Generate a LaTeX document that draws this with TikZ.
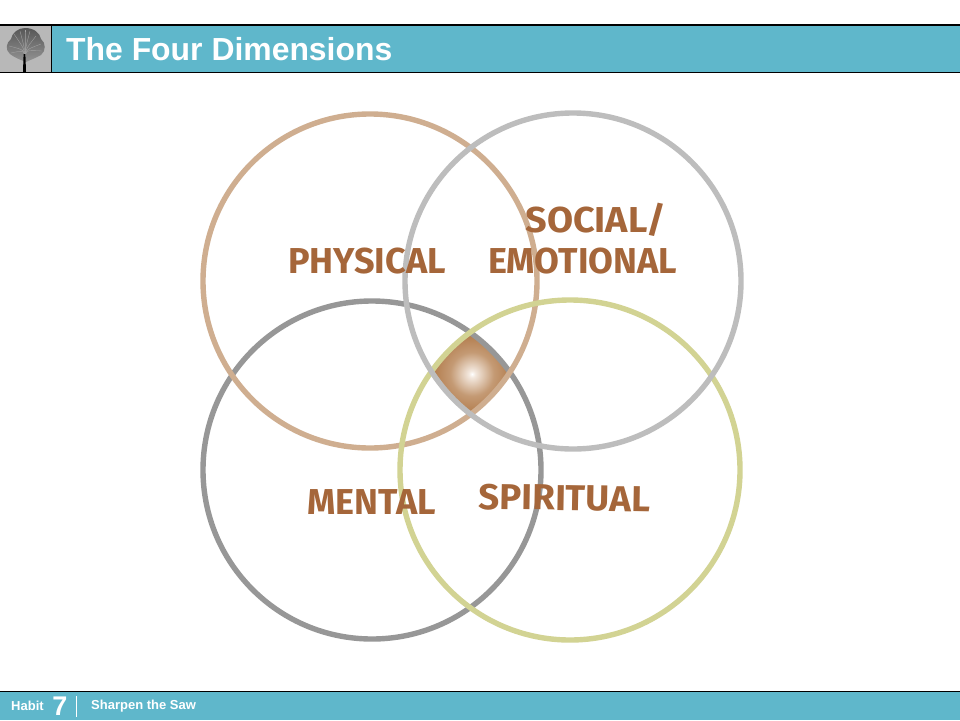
\documentclass[tikz,border=0pt]{standalone}
\usepackage{fontspec}
\setmainfont{Liberation Sans}
\newfontfamily\venn{Fira Sans}
\definecolor{teal1}{HTML}{5FB7CB}
\definecolor{ringtan}{HTML}{CFAE90}
\definecolor{ringlight}{HTML}{BDBDBD}
\definecolor{ringdark}{HTML}{979797}
\definecolor{ringgreen}{HTML}{D2D393}
\definecolor{wordbrown}{HTML}{A5663A}
\definecolor{coreA}{HTML}{C49A74}
\definecolor{coreB}{HTML}{B27B4B}
\definecolor{coreC}{HTML}{F3E8DE}
\pgfdeclareradialshading{coreglow}{\pgfpoint{0bp}{0bp}}{
  color(0bp)=(white);
  color(2bp)=(coreC);
  color(13bp)=(coreA);
  color(24bp)=(coreB);
  color(50bp)=(coreB)}
\tikzset{
  ring/.style={draw=#1,line width=5.4pt,fill=none},
  word/.style={text=wordbrown,font=\venn\bfseries\fontsize{36}{36}\selectfont,inner sep=0pt,anchor=center},
}
\begin{document}
\begin{tikzpicture}[x=1pt,y=-1pt]
\useasboundingbox (0,0) rectangle (960,720);
\fill[white] (0,0) rectangle (960,720);
% header
\node[draw=none,fill=teal1,minimum width=908pt,minimum height=48pt,inner sep=0pt,anchor=north west] (head) at (52,24.5) {};
\node[fill=black!28,minimum width=51pt,minimum height=48pt,inner sep=0pt,anchor=north west] (treebox) at (0,24.5) {};
\draw[line width=2pt] (0,24.5) -- (960,24.5);
\draw[line width=1pt] (0,72.5) -- (960,72.5);
\draw[line width=1pt] (51.5,24.5) -- (51.5,72.5);
\node[text=white,font=\bfseries\fontsize{31.9}{32}\selectfont,anchor=west,inner sep=0pt] (title) at (66,49.5) {The Four Dimensions};
% tree
\shade[top color=black!66,bottom color=black!42] (25,28) .. controls (34,28) and (40,33) .. (41,39) .. controls (46,43) and (46,51) .. (41,55)
  .. controls (36,58) and (30,60) .. (26,62) .. controls (21,60) and (15,58) .. (10,54)
  .. controls (5,50) and (6,43) .. (11,39) .. controls (12,33) and (18,28) .. (25,28) -- cycle;
\foreach \a/\b in {14/34,20/31,30/31,36/36,41/44,42/51,9/46,11/53,25/30}
  \draw[black!36,line width=.35pt] (25,61) .. controls (25,50) .. (\a,\b);
\fill[black] (23.6,54) -- (25.4,54) -- (26,72) -- (23,72) -- cycle;
% footer
\node[fill=teal1,minimum width=960pt,minimum height=28.5pt,inner sep=0pt,anchor=north west] (foot) at (0,691.5) {};
\draw[line width=1pt] (0,691.5) -- (960,691.5);
\node[text=white,font=\bfseries\fontsize{13}{13}\selectfont,anchor=west,inner sep=0pt] (habit) at (11,706) {Habit};
\node[text=white,font=\bfseries\fontsize{27}{27}\selectfont,anchor=center,inner sep=0pt] (seven) at (60,706) {7};
\coordinate (divtop) at (76.5,696);
\coordinate (divbot) at (76.5,717);
\draw[white,line width=.8pt] (divtop) -- (divbot);
\node[text=white,font=\bfseries\fontsize{13}{13}\selectfont,anchor=west,inner sep=0pt] (saw) at (91,706) {Sharpen the Saw};
% core
\begin{scope}
\clip (370,281) circle (167pt);
\clip (573,281) circle (168pt);
\clip (372,470) circle (169pt);
\clip (570,470) circle (170pt);
\shade[shading=coreglow] (472,374) ++(-42,-42) rectangle ++(84,84);
\end{scope}
% rings
\node[ring=ringdark,circle,minimum size=338pt,inner sep=0pt] (mental) at (372,470) {};
\node[ring=ringtan,circle,minimum size=334pt,inner sep=0pt] (physical) at (370,281) {};
\node[ring=ringgreen,circle,minimum size=340pt,inner sep=0pt] (spiritual) at (570,470) {};
\node[ring=ringlight,circle,minimum size=336pt,inner sep=0pt] (social) at (573,281) {};
% words
\node[word,xscale=1.0] (wphysical) at (367,261) {PHYSICAL};
\node[word,xscale=1.05] (wsocial) at (596,219.5) {SOCIAL/};
\node[word,xscale=1.0] (wemotional) at (582.5,261) {EMOTIONAL};
\node[word,xscale=1.0] (wmental) at (371.5,502) {MENTAL};
\node[word,xscale=1.02,rotate=-1] (wspiritual) at (564.5,498) {SPIRITUAL};
\end{tikzpicture}
\end{document}
